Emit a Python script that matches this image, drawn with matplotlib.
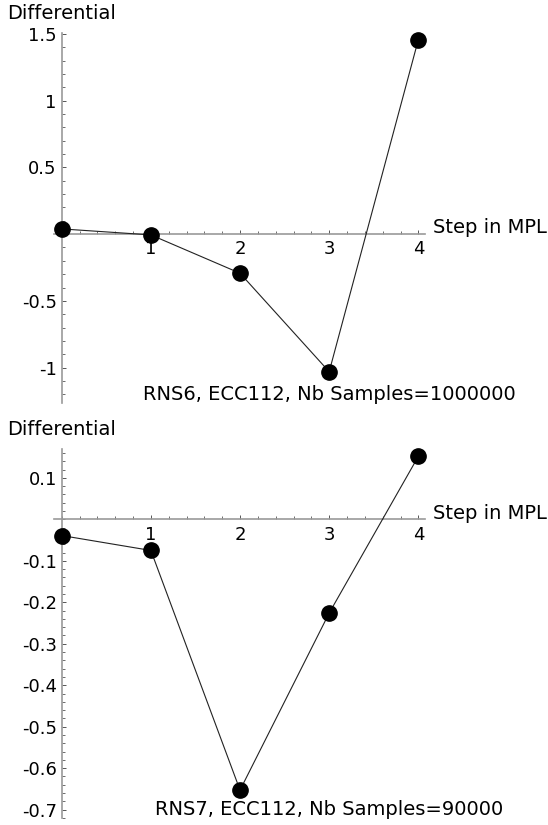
import numpy as np
import matplotlib
matplotlib.use("Agg")
import matplotlib.pyplot as plt
from matplotlib.ticker import FixedLocator, FixedFormatter, MultipleLocator

steps = [0, 1, 2, 3, 4]
diff_rns6 = [0.039, -0.006, -0.293, -1.031, 1.457]
diff_rns7 = [-0.039, -0.075, -0.653, -0.226, 0.152]

xticks = [1, 2, 3, 4]
xtick_labels = ["1", "2", "3", "4"]
yticks_rns6 = [-1, -0.5, 0.5, 1, 1.5]
ylabels_rns6 = ["-1", "-0.5", "0.5", "1", "1.5"]
yticks_rns7 = [-0.7, -0.6, -0.5, -0.4, -0.3, -0.2, -0.1, 0.1]
ylabels_rns7 = ["-0.7", "-0.6", "-0.5", "-0.4", "-0.3", "-0.2", "-0.1", "0.1"]

title_rns6 = "RNS6, ECC112, Nb Samples=1000000"
title_rns7 = "RNS7, ECC112, Nb Samples=90000"

axis_grey = "#999999"
fs_ticks = 13
fs_text = 14

fig = plt.figure(figsize=(5.48, 8.25), dpi=100)


def sage_axes(rect, ys, yticks, ylabels, yminor, ylim, title, title_y):
    ax = fig.add_axes(rect)
    ax.plot(steps, ys, color="#222222", lw=0.8, marker="o", ms=11,
            mfc="black", mec="black", clip_on=False, zorder=3)
    ax.set_xlim(-0.083, 4.075)
    ax.set_ylim(*ylim)
    for s in ["top", "right"]:
        ax.spines[s].set_visible(False)
    for s in ["left", "bottom"]:
        ax.spines[s].set_position(("data", 0))
        ax.spines[s].set_color(axis_grey)
        ax.spines[s].set_linewidth(1.2)
    ax.xaxis.set_major_locator(FixedLocator(xticks))
    ax.xaxis.set_major_formatter(FixedFormatter(xtick_labels))
    ax.xaxis.set_minor_locator(MultipleLocator(0.2))
    ax.yaxis.set_major_locator(FixedLocator(yticks))
    ax.yaxis.set_major_formatter(FixedFormatter(ylabels))
    ax.yaxis.set_minor_locator(MultipleLocator(yminor))
    ax.tick_params(which="both", direction="in", color="#555555", labelsize=fs_ticks)
    ax.tick_params(which="major", length=3, width=0.7)
    ax.tick_params(which="minor", length=2, width=0.6)
    ax.tick_params(axis="x", which="major", pad=4.5)
    ax.tick_params(axis="y", which="major", pad=3.5)
    # axis labels sit at the ends of the axes, sage style
    ax.annotate("Differential", xy=(0, 1), xycoords=("data", "axes fraction"),
                xytext=(0, 10), textcoords="offset points",
                ha="center", va="baseline", fontsize=fs_text)
    ax.annotate("Step in MPL", xy=(1, 0), xycoords=("axes fraction", "data"),
                xytext=(6, 0.5), textcoords="offset points",
                ha="left", va="baseline", fontsize=fs_text)
    ax.text(3, title_y, title, ha="center", va="center", fontsize=fs_text)
    return ax


sage_axes([0.0991, 0.5119, 0.6765, 0.4478], diff_rns6, yticks_rns6,
          ylabels_rns6, 0.1, (-1.263, 1.505), title_rns6, -1.2)
sage_axes([0.0991, 0.0081, 0.6765, 0.4473], diff_rns7, yticks_rns7,
          ylabels_rns7, 0.02, (-0.721, 0.169), title_rns7, -0.7)

fig.savefig("out.png", dpi=100)
